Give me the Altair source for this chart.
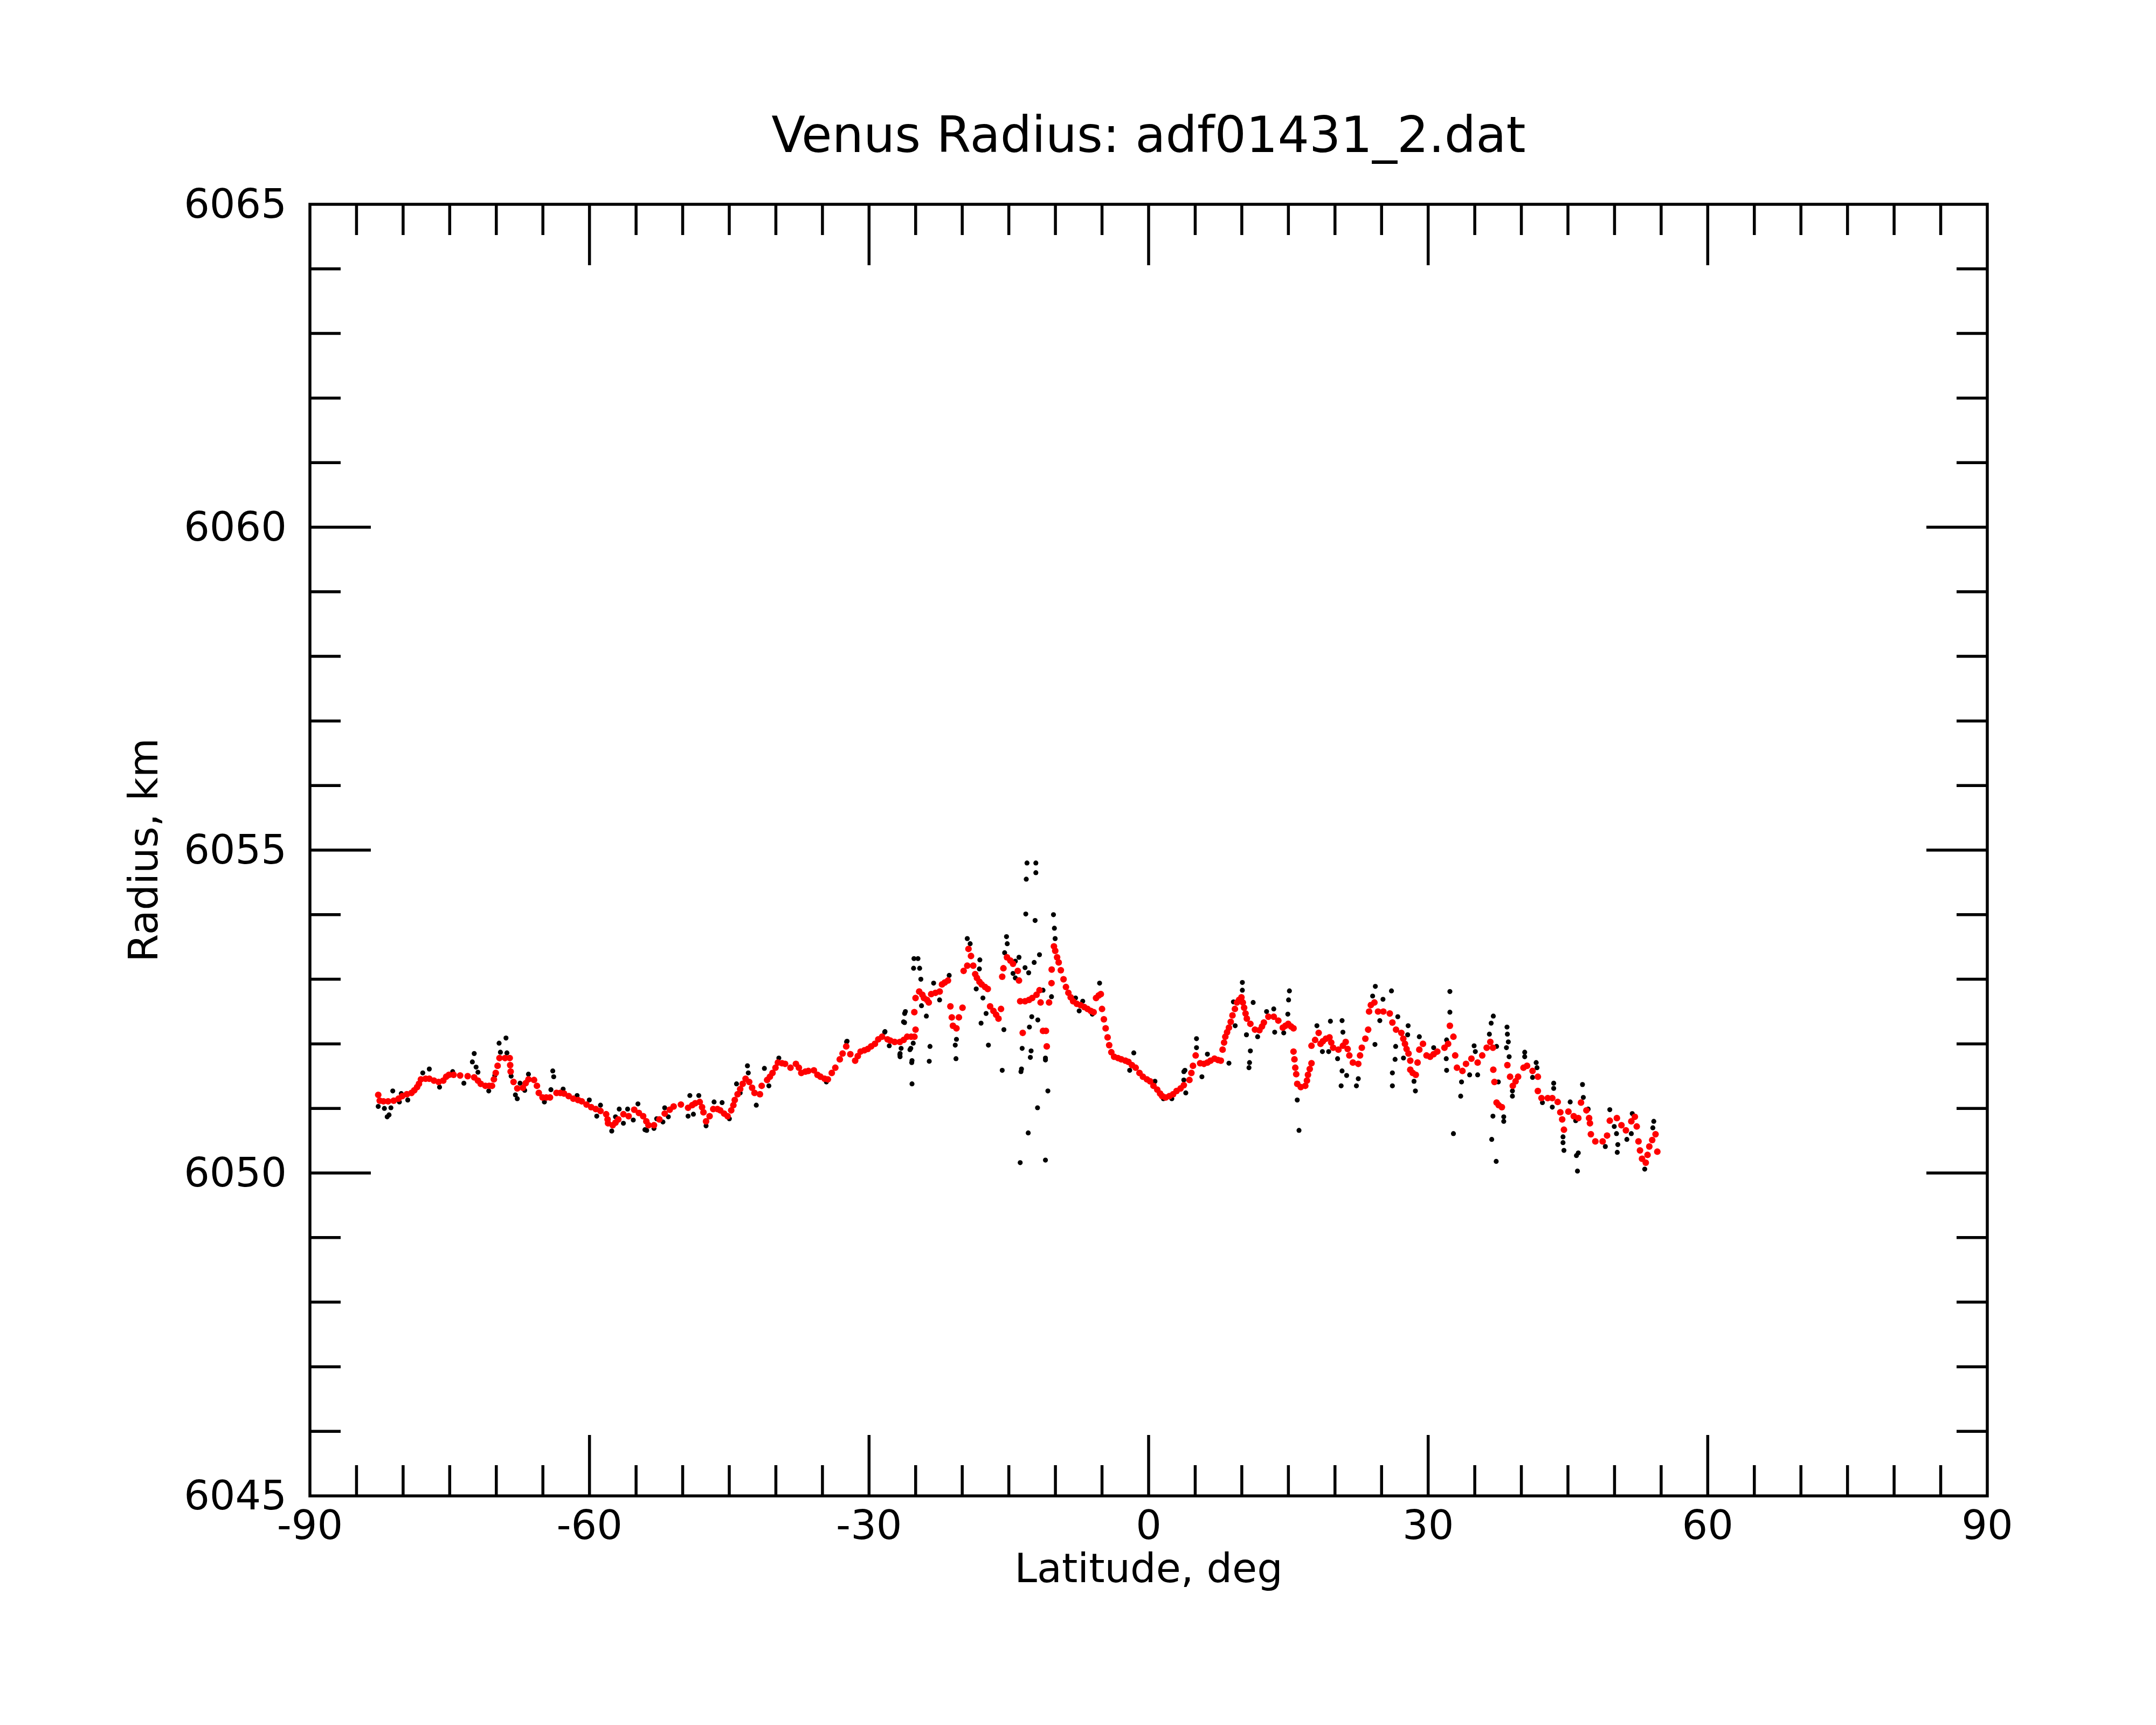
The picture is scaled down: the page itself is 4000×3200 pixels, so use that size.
import altair as alt
import pandas as pd

# ---- smoothed radius profile (red) ----
fit_lat = [
    -82.67, -82.51, -82.11, -81.61, -81.01, -80.50, -80.10, -79.60, -79.10, -78.80, -78.50, -78.30, -78.09,
    -77.59, -77.19, -76.69, -76.19, -75.69, -75.38, -75.08, -74.58, -73.88, -73.07, -72.37, -71.97, -71.67,
    -71.17, -70.77, -70.46, -70.26, -70.06, -69.86, -69.66, -69.06, -68.56, -68.51, -68.46, -68.15, -67.75,
    -67.15, -66.85, -66.55, -65.95, -65.64, -65.44, -65.04, -64.64, -64.24, -63.54, -63.13, -62.73, -62.23,
    -61.73, -61.23, -60.83, -60.32, -59.82, -59.32, -58.82, -58.21, -58.06, -58.01, -57.51, -57.21, -56.91,
    -56.36, -55.80, -55.20, -54.70, -54.24, -53.90, -53.67, -53.08, -52.50, -51.93, -51.39, -50.97,
    -50.19, -49.42, -48.98, -48.65, -48.17, -47.92, -47.77, -47.49, -47.11, -46.72, -46.27, -45.97,
    -45.56, -45.18, -44.79, -44.56, -44.41, -44.11, -43.83, -43.56, -43.25, -42.86, -42.55, -42.29,
    -41.71, -41.52, -40.94, -40.64, -40.36, -40.04, -39.78, -39.34, -39.01, -38.43, -37.85, -37.53,
    -37.27, -36.83, -36.51, -35.92, -35.54, -35.21, -34.77, -34.42, -34.00, -33.62, -33.14, -32.84,
    -32.45, -32.01, -31.49, -31.21, -30.91, -30.50, -30.14, -29.78, -29.37, -29.01, -28.60, -28.02,
    -27.72, -27.25, -26.69, -26.29, -25.91, -25.48, -25.13, -25.01, -25.14, -25.01, -24.62, -24.28,
    -24.11, -23.78, -23.59, -23.33, -22.87, -22.42, -22.17, -21.87, -21.53, -21.27, -21.12, -21.00,
    -20.62, -20.36, -19.97, -19.85, -19.46, -19.33, -19.06, -18.82, -18.61, -18.42, -18.15, -17.91,
    -17.55, -17.26, -17.01, -16.65, -16.36, -16.11, -15.84, -15.71, -15.58, -15.20, -14.84, -14.55,
    -14.04, -13.91, -13.78, -13.51, -13.26, -12.83, -12.49, -12.03, -11.71, -11.59, -11.33, -11.02,
    -10.93, -10.68, -10.42, -10.40, -10.16, -10.02, -9.82, -9.65, -9.42, -9.13, -8.87, -8.61,
    -8.36, -8.10, -7.71, -7.32, -6.91, -6.55, -6.20, -5.90, -5.64, -5.35, -5.13, -5.00, -4.80, -4.61,
    -4.40, -4.23, -4.00, -3.70, -3.29, -2.93, -2.49, -2.16, -1.79, -1.39, -0.98, -0.61, -0.18, 0.16,
    0.52, 0.93, 1.23, 1.46, 1.83, 2.23, 2.63, 3.00, 3.43, 3.78, 4.38, 4.59, 4.76, 5.05, 5.53, 5.94,
    6.31, 6.65, 7.07, 7.45, 7.75, 7.94, 8.10, 8.23, 8.42, 8.62, 8.81, 9.00, 9.26, 9.48, 9.71, 9.96,
    10.11, 10.25, 10.40, 10.54, 10.92, 11.41, 11.89, 12.17, 12.37, 12.85, 13.43, 13.92, 14.40, 14.68,
    14.98, 15.28, 15.55, 15.55, 15.65, 15.74, 15.84, 15.95, 16.33, 16.81, 16.99, 17.10, 17.29,
    17.48, 17.48, 17.87, 18.25, 18.45, 18.70, 19.03, 19.41, 19.60, 19.80, 20.37, 20.85, 21.15,
    21.36, 21.54, 21.92, 22.50, 22.69, 22.88, 23.26, 23.56, 23.66, 23.85, 24.23, 24.62, 25.19,
    25.88, 26.16, 26.55, 27.12, 27.33, 27.51, 27.68, 27.89, 28.08, 28.08, 28.34, 28.67, 28.86,
    29.05, 29.44, 29.82, 30.21, 30.59, 30.98, 31.75, 32.14, 32.33, 32.71, 32.90, 33.09, 33.68,
    34.06, 34.64, 35.31, 35.80, 36.28, 36.67, 36.95, 36.99, 37.11, 37.34, 37.57, 37.91, 38.50,
    38.79, 39.08, 39.38, 39.65, 40.23, 40.61, 41.20, 41.77, 41.77, 42.16, 42.83, 43.32, 43.90,
    44.18, 44.38, 44.57, 45.05, 45.62, 46.11, 46.40, 46.98, 47.27, 47.36, 47.46, 47.94, 48.72,
    49.20, 49.49, 50.25, 50.74, 51.22, 51.80, 52.18, 52.38, 52.57, 52.73, 52.95, 53.35, 53.54,
    53.73, 54.04, 54.40, 54.59,
]
fit_rad = [
    6051.21, 6051.12, 6051.11, 6051.11, 6051.12, 6051.15, 6051.19, 6051.22, 6051.24, 6051.28, 6051.33, 6051.38, 6051.45,
    6051.46, 6051.46, 6051.43, 6051.41, 6051.43, 6051.49, 6051.52, 6051.52, 6051.51, 6051.50, 6051.48, 6051.43, 6051.38,
    6051.35, 6051.35, 6051.35, 6051.45, 6051.55, 6051.66, 6051.78, 6051.78, 6051.78, 6051.67, 6051.57, 6051.41, 6051.31,
    6051.32, 6051.39, 6051.45, 6051.44, 6051.35, 6051.24, 6051.17, 6051.17, 6051.17, 6051.24, 6051.24, 6051.23, 6051.19,
    6051.15, 6051.13, 6051.11, 6051.06, 6051.02, 6050.99, 6050.96, 6050.91, 6050.83, 6050.77, 6050.74, 6050.78, 6050.83,
    6050.91, 6050.88, 6050.98, 6050.93, 6050.88, 6050.80, 6050.74, 6050.74, 6050.83, 6050.92, 6050.98, 6051.03,
    6051.06, 6051.01, 6051.05, 6051.08, 6051.10, 6051.02, 6050.94, 6050.80, 6050.88, 6050.99, 6050.99, 6050.97,
    6050.92, 6050.88, 6050.97, 6051.05, 6051.13, 6051.22, 6051.30, 6051.38, 6051.46, 6051.41, 6051.32, 6051.24,
    6051.22, 6051.35, 6051.44, 6051.49, 6051.55, 6051.63, 6051.71, 6051.70, 6051.69, 6051.63, 6051.69, 6051.63,
    6051.55, 6051.57, 6051.58, 6051.59, 6051.52, 6051.49, 6051.46, 6051.45, 6051.55, 6051.63, 6051.76, 6051.85,
    6051.96, 6051.84, 6051.74, 6051.81, 6051.88, 6051.90, 6051.92, 6051.96, 6052.00, 6052.07, 6052.11, 6052.07,
    6052.05, 6052.03, 6052.03, 6052.06, 6052.11, 6052.11, 6052.11, 6052.22, 6052.49, 6052.71, 6052.81, 6052.76,
    6052.71, 6052.68, 6052.64, 6052.77, 6052.79, 6052.81, 6052.92, 6052.95, 6052.98, 6052.58, 6052.41, 6052.28,
    6052.24, 6052.41, 6052.56, 6053.13, 6053.21, 6053.47, 6053.36, 6053.21, 6053.08, 6053.02, 6052.96, 6052.92,
    6052.88, 6052.85, 6052.58, 6052.51, 6052.45, 6052.39, 6052.54, 6053.04, 6053.17, 6053.34, 6053.29, 6053.24,
    6053.13, 6052.98, 6052.66, 6052.17, 6052.66, 6052.68, 6052.71, 6052.76, 6052.83, 6052.64, 6052.20, 6052.20,
    6051.96, 6052.64, 6052.94, 6053.15, 6053.51, 6053.44, 6053.34, 6053.26, 6053.14, 6053.00, 6052.88, 6052.79,
    6052.72, 6052.66, 6052.62, 6052.60, 6052.57, 6052.54, 6052.51, 6052.49, 6052.71, 6052.75, 6052.77, 6052.54, 6052.38, 6052.24,
    6052.10, 6051.98, 6051.87, 6051.80, 6051.78, 6051.76, 6051.74, 6051.72, 6051.67, 6051.63, 6051.55, 6051.49, 6051.45, 6051.42,
    6051.35, 6051.29, 6051.23, 6051.19, 6051.17, 6051.19, 6051.22, 6051.27, 6051.31, 6051.36, 6051.44, 6051.55, 6051.66, 6051.82, 6051.70, 6051.69,
    6051.71, 6051.74, 6051.77, 6051.75, 6051.74, 6051.91, 6052.02, 6052.11, 6052.18, 6052.25, 6052.34, 6052.44, 6052.54, 6052.64, 6052.68, 6052.72,
    6052.64, 6052.56, 6052.47, 6052.39, 6052.31, 6052.22, 6052.21, 6052.27, 6052.33, 6052.42, 6052.42, 6052.36, 6052.25, 6052.28,
    6052.31, 6052.27, 6052.24, 6051.88, 6051.76, 6051.63, 6051.53, 6051.38, 6051.33, 6051.35, 6051.43, 6051.52, 6051.61,
    6051.70, 6051.97, 6052.06, 6052.17, 6052.00, 6052.04, 6052.08, 6052.10, 6052.02, 6051.94, 6051.91, 6051.97, 6052.03,
    6051.92, 6051.82, 6051.71, 6051.69, 6051.82, 6051.94, 6052.08, 6052.22, 6052.50, 6052.60, 6052.64, 6052.50, 6052.50,
    6052.47, 6052.33, 6052.22, 6052.17, 6052.08, 6052.00, 6051.92, 6051.85, 6051.74, 6051.60, 6051.55, 6051.52, 6051.71,
    6051.91, 6052.00, 6051.82, 6051.80, 6051.84, 6051.88, 6051.94, 6052.00, 6052.28, 6052.11, 6051.82, 6051.63, 6051.58,
    6051.69, 6051.77, 6051.71, 6051.82, 6051.94, 6052.03, 6051.94, 6051.60, 6051.41, 6051.09, 6051.05, 6051.02, 6051.67,
    6051.49, 6051.35, 6051.42, 6051.49, 6051.63, 6051.66, 6051.58, 6051.49, 6051.27, 6051.16, 6051.16, 6051.16, 6051.10,
    6050.94, 6050.83, 6050.67, 6050.95, 6050.88, 6050.85, 6051.09, 6050.97, 6050.85, 6050.77, 6050.60, 6050.49, 6050.49,
    6050.58, 6050.81, 6050.85, 6050.74, 6050.66, 6050.80, 6050.87, 6050.72, 6050.49, 6050.35, 6050.22, 6050.16, 6050.28,
    6050.41, 6050.51, 6050.60, 6050.33,
]

# ---- raw radius samples that stand off the smoothed curve (black) ----
raw_lat = [
    -82.67, -82.01, -81.71, -81.51, -81.31, -81.11, -80.20, -80.40, -79.50, -77.89, -77.19, -76.09, -74.68, -73.48,
    -72.37, -72.57, -72.17, -71.97, -70.81, -70.16, -69.70, -68.96, -69.56, -68.86, -68.41, -67.95, -67.75, -67.45,
    -66.95, -66.55, -63.94, -63.84, -64.14, -64.84, -62.83, -61.33, -60.02, -59.22, -58.82, -57.61, -57.21, -56.81,
    -56.36, -55.91, -55.30, -54.80, -54.05, -53.86, -53.08, -52.79, -52.12, -51.93, -51.54, -49.23, -48.27,
    -49.42, -48.85, -47.49, -46.63, -45.77, -44.99, -44.22, -43.83, -43.05, -42.96, -42.10, -41.23, -40.75,
    -39.68, -34.58, -32.36, -32.41, -28.32, -28.29, -27.83, -26.69, -26.67, -26.67, -26.56, -26.18, -26.30,
    -26.10, -26.19, -25.61, -25.52, -25.42, -25.39, -25.39, -25.26, -25.22, -25.18, -24.75, -24.57,
    -24.44, -24.37, -23.85, -23.46, -23.54, -23.07, -22.43, -21.40, -20.75, -20.62, -20.67, -19.46,
    -19.15, -18.11, -18.16, -18.50, -17.78, -17.98, -17.19, -17.44, -15.53, -15.71, -15.25, -15.17,
    -15.45, -14.30, -13.91, -14.55, -14.30, -13.26, -12.87, -12.28, -11.71, -13.05, -12.10, -13.13,
    -12.10, -13.18, -12.18, -13.57, -13.70, -13.64, -12.54, -11.89, -12.79, -12.61, -12.69, -11.07,
    -11.07, -11.33, -10.81, -11.92, -12.92, -13.78, -11.07, -10.21, -10.11, -10.03, -10.42, -7.84,
    -7.07, -7.45, -6.04, -5.26, -1.59, -2.03, 0.68, 1.59, 2.49, 3.78, 3.78,
    3.99, 3.90, 5.14, 5.14, 5.72, 6.31, 8.62, 9.10, 9.29, 10.06, 10.06, 10.50, 10.92, 10.83, 10.77, 11.22,
    11.70, 12.66, 13.43, 13.53, 14.50, 14.94, 15.02, 15.11, 15.95, 16.14, 18.06, 18.65, 19.32, 19.51,
    20.76, 20.85, 20.28, 20.76, 21.25, 20.66, 22.30, 22.50, 24.33, 24.04, 24.29, 24.81, 25.15, 26.06,
    26.74, 26.51, 26.45, 26.16, 26.16, 27.85, 27.80, 27.35, 28.48, 28.63, 29.05, 30.59, 31.94, 31.98,
    32.33, 32.33, 32.71, 31.98, 33.58, 33.49, 34.45, 34.93, 35.06, 35.31, 36.57, 36.76, 36.99, 37.34,
    37.53, 36.95, 36.82, 37.30, 38.11, 38.11, 38.46, 38.50, 38.60, 38.40, 38.69, 39.04, 39.04, 40.36,
    40.36, 41.59, 41.68, 41.20, 42.26, 43.47, 43.47, 43.32, 45.24, 44.47, 44.47, 44.57, 45.83, 46.11,
    45.91, 46.02, 46.56, 46.65, 47.17, 49.01, 49.49, 49.97, 50.21, 50.35, 50.29, 51.32, 51.90, 51.80,
    54.21, 54.11, 53.24,
]
raw_rad = [
    6051.03, 6051.00, 6050.87, 6050.90, 6051.01, 6051.27, 6051.23, 6051.10, 6051.13, 6051.55, 6051.61, 6051.33, 6051.57, 6051.39,
    6051.85, 6051.72, 6051.64, 6051.56, 6051.27, 6051.51, 6052.01, 6052.09, 6051.87, 6051.86, 6051.50, 6051.21, 6051.15, 6051.39,
    6051.28, 6051.53, 6051.58, 6051.49, 6051.29, 6051.10, 6051.30, 6051.20, 6051.13, 6050.88, 6051.05, 6050.65, 6050.87, 6050.99,
    6050.77, 6050.99, 6050.82, 6051.07, 6050.67, 6050.66, 6050.69, 6050.84, 6050.79, 6051.01, 6050.87, 6051.20, 6051.20,
    6050.88, 6050.91, 6050.73, 6051.10, 6051.09, 6050.84, 6051.38, 6051.24, 6051.66, 6051.55, 6051.05, 6051.62, 6051.35,
    6051.78, 6051.41, 6052.04, 6052.03, 6052.18, 6052.19, 6051.97, 6051.83, 6051.85, 6051.80, 6051.93, 6052.47, 6052.34,
    6052.50, 6052.33, 6051.91, 6051.93, 6051.71, 6051.74, 6051.38, 6052.01, 6053.17, 6053.32, 6053.32, 6053.17,
    6053.00, 6052.59, 6052.43, 6051.96, 6051.73, 6052.94, 6052.68, 6053.06, 6051.98, 6052.07, 6051.77, 6053.63,
    6053.55, 6053.30, 6053.16, 6052.85, 6052.71, 6052.32, 6051.98, 6052.47, 6052.22, 6051.59, 6053.66, 6053.55,
    6053.41, 6053.28, 6053.34, 6053.09, 6053.02, 6053.18, 6053.10, 6053.26, 6053.38, 6054.80, 6054.80, 6054.55,
    6054.65, 6054.01, 6053.91, 6051.93, 6051.57, 6051.61, 6052.42, 6052.37, 6052.26, 6051.89, 6051.79, 6051.78,
    6051.75, 6052.83, 6051.27, 6051.01, 6050.62, 6050.16, 6050.20, 6054.00, 6053.79, 6053.63, 6052.73, 6052.71,
    6052.66, 6052.51, 6052.46, 6052.94, 6051.86, 6051.59, 6051.42, 6051.15, 6051.15, 6051.57, 6051.44,
    6051.24, 6051.59, 6052.08, 6051.94, 6051.49, 6051.84, 6051.70, 6052.65, 6052.28, 6052.95, 6052.83, 6052.14, 6051.89, 6051.71, 6051.63, 6052.64,
    6052.11, 6052.50, 6052.54, 6052.18, 6052.17, 6052.46, 6052.68, 6052.82, 6051.13, 6050.66, 6052.28, 6051.88, 6051.88, 6052.35,
    6052.36, 6052.18, 6051.77, 6051.58, 6051.51, 6051.35, 6051.35, 6051.46, 6052.89, 6052.74, 6051.99, 6052.36, 6052.69, 6052.82,
    6052.42, 6051.96, 6051.76, 6051.55, 6051.35, 6052.28, 6052.14, 6051.78, 6051.42, 6051.27, 6052.11, 6051.94, 6051.77, 6051.59,
    6052.81, 6052.49, 6050.61, 6052.06, 6051.41, 6051.19, 6051.52, 6051.97, 6051.88, 6051.52, 6052.15, 6052.32, 6052.43, 6051.96,
    6051.41, 6050.88, 6050.52, 6050.18, 6050.87, 6050.80, 6052.26, 6052.15, 6052.03, 6051.94, 6051.80, 6051.19, 6051.27, 6051.87,
    6051.80, 6051.71, 6051.63, 6051.48, 6051.09, 6051.39, 6051.31, 6051.02, 6051.10, 6050.56, 6050.47, 6050.35, 6050.81, 6050.31,
    6050.27, 6050.03, 6051.37, 6051.17, 6050.99, 6050.41, 6050.98, 6050.72, 6050.61, 6050.44, 6050.32, 6050.52, 6050.92, 6050.61,
    6050.80, 6050.70, 6050.06,
]

# ---- axis ticks and labels ----
x_labels = [-90, -60, -30, 0, 30, 60, 90]
x_major = [-60, -30, 0, 30, 60]
x_minor = [-85, -80, -75, -70, -65, -55, -50, -45, -40, -35, -25, -20, -15, -10, -5,
           5, 10, 15, 20, 25, 35, 40, 45, 50, 55, 65, 70, 75, 80, 85]
y_labels = [6045, 6050, 6055, 6060, 6065]
y_major = [6050, 6055, 6060]
y_minor = [6046, 6047, 6048, 6049, 6051, 6052, 6053, 6054, 6056, 6057, 6058, 6059,
           6061, 6062, 6063, 6064]
title_text = "Venus Radius: adf01431_2.dat"
x_title = "Latitude, deg"
y_title = "Radius, km"

W, H = 3112, 2396
FONT = "DejaVu Sans"
LW = 5.5
MAJ, MIN = 113, 57
FS = 75

xs = alt.Scale(domain=[-90, 90], nice=False, zero=False)
ys = alt.Scale(domain=[6045, 6065], nice=False, zero=False)

raw_df = pd.DataFrame({"lat": raw_lat, "rad": raw_rad})
fit_df = pd.DataFrame({"lat": fit_lat, "rad": fit_rad})

black = alt.Chart(raw_df).mark_circle(color="black", size=85, opacity=1).encode(
    x=alt.X("lat:Q", scale=xs, axis=None),
    y=alt.Y("rad:Q", scale=ys, axis=None),
)
red = alt.Chart(fit_df).mark_circle(color="#ff0000", size=150, opacity=1).encode(
    x=alt.X("lat:Q", scale=xs, axis=None),
    y=alt.Y("rad:Q", scale=ys, axis=None),
)


def xticks(vals, length):
    d = pd.DataFrame({"v": vals})
    bot = alt.Chart(d).mark_rule(color="black", strokeWidth=LW).encode(
        x=alt.X("v:Q", scale=xs, axis=None), y=alt.value(H), y2=alt.value(H - length))
    top = alt.Chart(d).mark_rule(color="black", strokeWidth=LW).encode(
        x=alt.X("v:Q", scale=xs, axis=None), y=alt.value(0), y2=alt.value(length))
    return [bot, top]


def yticks(vals, length):
    d = pd.DataFrame({"v": vals})
    left = alt.Chart(d).mark_rule(color="black", strokeWidth=LW).encode(
        y=alt.Y("v:Q", scale=ys, axis=None), x=alt.value(0), x2=alt.value(length))
    right = alt.Chart(d).mark_rule(color="black", strokeWidth=LW).encode(
        y=alt.Y("v:Q", scale=ys, axis=None), x=alt.value(W), x2=alt.value(W - length))
    return [left, right]


xlab_df = pd.DataFrame({"v": x_labels, "t": [str(v) for v in x_labels]})
ylab_df = pd.DataFrame({"v": y_labels, "t": [str(v) for v in y_labels]})

xlab = alt.Chart(xlab_df).mark_text(font=FONT, fontSize=FS, color="black", align="center",
                                     baseline="alphabetic").encode(
    x=alt.X("v:Q", scale=xs, axis=None), y=alt.value(H + 80), text="t:N")
ylab = alt.Chart(ylab_df).mark_text(font=FONT, fontSize=FS, color="black", align="right",
                                     baseline="alphabetic", dy=25).encode(
    y=alt.Y("v:Q", scale=ys, axis=None), x=alt.value(-43), text="t:N")

xtitle = alt.Chart(pd.DataFrame({"t": [x_title]})).mark_text(
    font=FONT, fontSize=FS, color="black", align="center", baseline="alphabetic").encode(
    x=alt.value(W / 2), y=alt.value(H + 160), text="t:N")
ytitle = alt.Chart(pd.DataFrame({"t": [y_title]})).mark_text(
    font=FONT, fontSize=FS, color="black", align="center", baseline="alphabetic",
    angle=270).encode(x=alt.value(-283), y=alt.value(H / 2), text="t:N")
mtitle = alt.Chart(pd.DataFrame({"t": [title_text]})).mark_text(
    font=FONT, fontSize=92, color="black", align="center", baseline="alphabetic").encode(
    x=alt.value(W / 2), y=alt.value(-97), text="t:N")

layers = [black, red] + xticks(x_major, MAJ) + xticks(x_minor, MIN) + \
    yticks(y_major, MAJ) + yticks(y_minor, MIN) + [xlab, ylab, xtitle, ytitle, mtitle]

chart = alt.layer(*layers).properties(
    width=W,
    height=H,
    autosize=alt.AutoSizeParams(type="none"),
    padding={"left": 567, "top": 371, "right": 305, "bottom": 417},
    background="white",
).configure_view(stroke="black", strokeWidth=LW)

chart.save("out.html", embed_options={"renderer": "svg", "actions": False})
